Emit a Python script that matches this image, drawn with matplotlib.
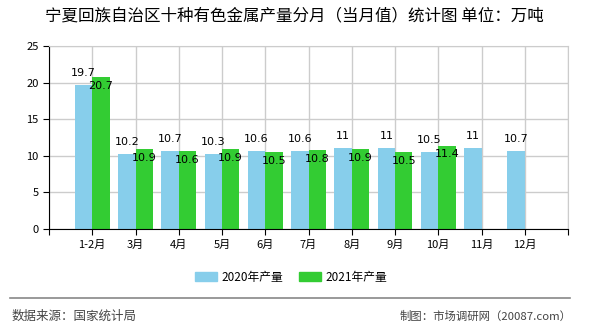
import numpy as np
import matplotlib.pyplot as plt
from matplotlib.patches import Patch
from matplotlib.lines import Line2D

plt.rcParams['font.family'] = ['Noto Sans CJK SC', 'DejaVu Sans']

months = ['1-2月', '3月', '4月', '5月', '6月', '7月', '8月', '9月', '10月', '11月', '12月']
prod_2020 = [19.7, 10.2, 10.7, 10.3, 10.6, 10.6, 11, 11, 10.5, 11, 10.7]
prod_2021 = [20.7, 10.9, 10.6, 10.9, 10.5, 10.8, 10.9, 10.5, 11.4]

c20 = '#87CEEB'
c21 = '#33CC33'
w = 0.4

fig = plt.figure(figsize=(5.9, 3.3), dpi=100)
ax = fig.add_axes([49/590, 1 - 229/330, 519/590, 183/330])

x20 = np.arange(len(prod_2020))
x21 = np.arange(len(prod_2021))
ax.bar(x20 - w/2, prod_2020, width=w, color=c20, zorder=2)
ax.bar(x21 + w/2, prod_2021, width=w, color=c21, zorder=2)

# 2020 labels sit above the bar, 2021 labels just under the bar top
for xi, v in zip(x20, prod_2020):
    ax.text(xi - w/2, v + 1.65, f'{v:g}', ha='center', va='center', fontsize=8,
            family='DejaVu Sans', zorder=3)
for xi, v in zip(x21, prod_2021):
    ax.text(xi + w/2, v - 1.2, f'{v:g}', ha='center', va='center', fontsize=8,
            family='DejaVu Sans', zorder=3)

ax.set_xlim(-1, len(months))
ax.set_ylim(0, 25)
ax.set_yticks([0, 5, 10, 15, 20, 25])
ax.set_xticks(np.arange(-1, len(months) + 1))
ax.set_xticklabels([''] + months + [''])
ax.tick_params(axis='both', labelsize=8, length=4, color='black')
ax.grid(True, color='#cccccc', linewidth=1, zorder=0)

for s in ['top', 'right']:
    ax.spines[s].set_color('#cccccc')
for s in ['left', 'bottom']:
    ax.spines[s].set_color('black')

fig.text(294/590, 1 - 16/330, '宁夏回族自治区十种有色金属产量分月（当月值）统计图 单位：万吨',
         ha='center', va='center', fontsize=11.9)

handles = [Patch(color=c20, label='2020年产量'), Patch(color=c21, label='2021年产量')]
fig.legend(handles=handles, loc='center', bbox_to_anchor=(291/590, 1 - 277/330),
           ncol=2, frameon=False, fontsize=8.5, handlelength=1.9, handleheight=0.7,
           columnspacing=1.3, handletextpad=0.35)

fig.add_artist(Line2D([10/590, 570/590], [1 - 298/330, 1 - 298/330],
                      color='#888888', linewidth=1.2))
fig.text(12/590, 1 - 316/330, '数据来源：国家统计局', ha='left', va='center',
         fontsize=9, color='#444444')
fig.text(572/590, 1 - 316/330, '制图：市场调研网（20087.com）', ha='right', va='center',
         fontsize=8.2, color='#444444')

fig.savefig('out.png', dpi=100)
